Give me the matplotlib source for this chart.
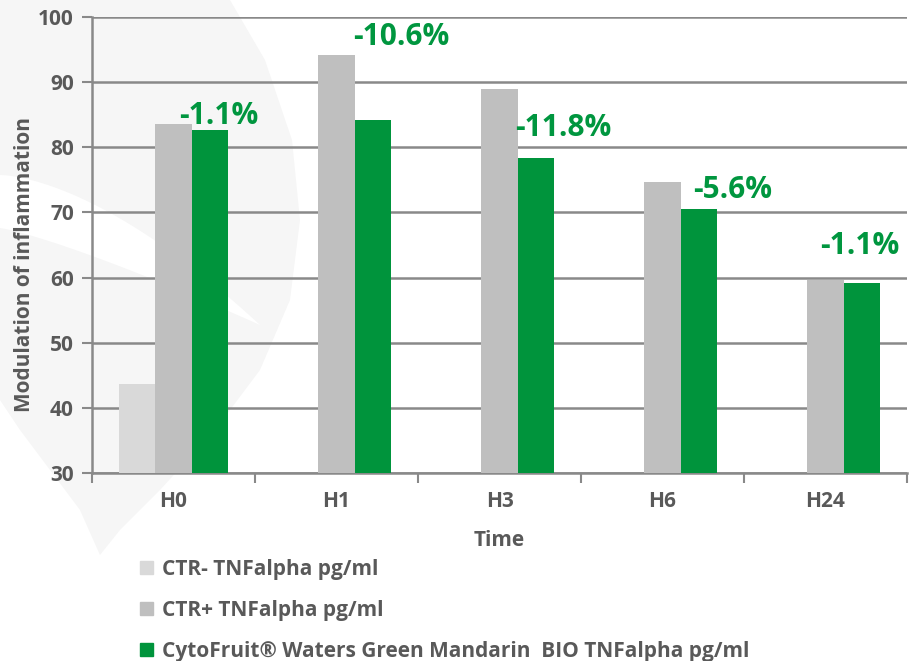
import matplotlib.pyplot as plt
import matplotlib.patches as mpatches
import numpy as np

# ---- data ----
categories = ['H0', 'H1', 'H3', 'H6', 'H24']
ctr_minus = [43.7, np.nan, np.nan, np.nan, np.nan]
ctr_plus = [83.5, 94.2, 88.9, 74.7, 59.7]
cytofruit = [82.7, 84.2, 78.3, 70.5, 59.1]
reductions = ['-1.1%', '-10.6%', '-11.8%', '-5.6%', '-1.1%']
# label centres (category units, value units)
label_x = [0.28, 1.40, 2.39, 3.43, 4.21]
label_y = [84.8, 96.9, 83.0, 73.4, 64.8]

series_names = ['CTR- TNFalpha pg/ml', 'CTR+ TNFalpha pg/ml',
                'CytoFruit® Waters Green Mandarin  BIO TNFalpha pg/ml']
colors = ['#d9d9d9', '#bfbfbf', '#00943c']
text_grey = '#595959'
green_txt = '#00963f'

plt.rcParams['font.family'] = ['Open Sans', 'DejaVu Sans']
plt.rcParams['font.weight'] = 'bold'

fig = plt.figure(figsize=(9.12, 6.61), dpi=100)

# faint leaf watermark in the background (pixel coords)
bg = fig.add_axes([0, 0, 1, 1], zorder=-5)
bg.set_xlim(0, 912)
bg.set_ylim(661, 0)
bg.axis('off')
leaf_x = [0, 230, 265, 292, 300, 290, 260, 215, 160, 120, 100, 80, 50, 20, 0]
leaf_y = [0, 0, 60, 140, 220, 300, 370, 430, 490, 530, 555, 510, 470, 430, 400]
bg.fill(leaf_x, leaf_y, color='#f6f6f6', lw=0)
t = np.linspace(0, 1, 50)
top_x = 260 * t
top_y = 175 + 150 * t ** 1.6
bot_x = 260 * t[::-1]
bot_y = 228 + 97 * t[::-1] ** 1.2
bg.fill(np.concatenate([top_x, bot_x]), np.concatenate([top_y, bot_y]),
        color='white', lw=0)

ax = fig.add_axes([92 / 912, 1 - 473 / 661, 815 / 912, 456 / 661])
ax.patch.set_alpha(0)

x = np.arange(len(categories))
w = 0.224
ax.bar(x - w, ctr_minus, w, color=colors[0], zorder=3, label=series_names[0])
ax.bar(x, ctr_plus, w, color=colors[1], zorder=3, label=series_names[1])
ax.bar(x + w, cytofruit, w, color=colors[2], zorder=3, label=series_names[2])

for lx, ly, txt in zip(label_x, label_y, reductions):
    ax.text(lx, ly, txt, color=green_txt, fontsize=21.5, fontweight='bold',
            ha='center', va='center', zorder=5)

ax.set_ylim(30, 100)
ax.set_xlim(-0.5, len(categories) - 0.5)
ax.set_yticks(range(30, 101, 10))
ax.yaxis.grid(True, color='#898989', lw=1.8, zorder=0)
ax.set_axisbelow(True)

# x ticks as boundaries between categories, labels centred
ax.set_xticks(np.arange(-0.5, len(categories), 1.0))
ax.set_xticklabels([])
ax.set_xticks(x, minor=True)
ax.set_xticklabels(categories, minor=True)
ax.tick_params(axis='x', which='major', length=7, width=1.5, color='#898989', direction='out')
ax.tick_params(axis='x', which='minor', length=0, pad=13, labelsize=15, labelcolor=text_grey)
ax.tick_params(axis='y', length=7, width=1.5, color='#898989', labelsize=15,
               labelcolor=text_grey, pad=6)
for lab in ax.get_xticklabels(minor=True) + ax.get_yticklabels():
    lab.set_fontweight('bold')

for s in ['top', 'right']:
    ax.spines[s].set_visible(False)
for s in ['left', 'bottom']:
    ax.spines[s].set_color('#898989')
    ax.spines[s].set_linewidth(1.8)

fig.text(499 / 912, 1 - 541 / 661, 'Time', ha='center', va='center',
         fontsize=15, fontweight='bold', color=text_grey)
fig.text(25 / 912, 1 - 265 / 661, 'Modulation of inflammation', ha='center', va='center',
         rotation=90, fontsize=15, fontweight='bold', color=text_grey)

handles = [mpatches.Patch(color=c) for c in colors]
leg = fig.legend(handles, series_names, loc='upper left',
                 bbox_to_anchor=(140 / 912, 1 - 559 / 661), frameon=False,
                 fontsize=15, handlelength=0.6, handleheight=0.6,
                 handletextpad=0.45, labelspacing=0.95, borderpad=0, borderaxespad=0)
for t_ in leg.get_texts():
    t_.set_color(text_grey)
    t_.set_fontweight('bold')

fig.savefig('out.png', dpi=100)
